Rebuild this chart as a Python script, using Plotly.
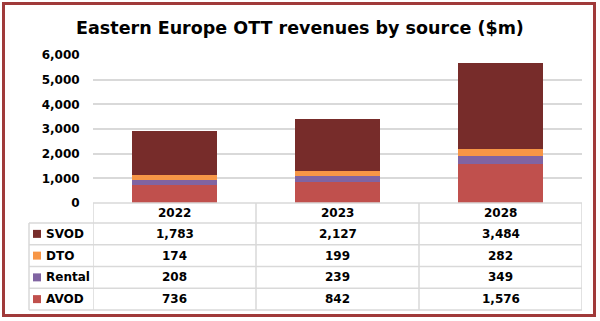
import plotly.graph_objects as go

# ---- data ----
years = ["2022", "2023", "2028"]
series_names = ["SVOD", "DTO", "Rental", "AVOD"]
svod = [1783, 2127, 3484]
dto = [174, 199, 282]
rental = [208, 239, 349]
avod = [736, 842, 1576]
y_ticks = [0, 1000, 2000, 3000, 4000, 5000, 6000]
title_text = "Eastern Europe OTT revenues by source ($m)"

values = {"SVOD": svod, "DTO": dto, "Rental": rental, "AVOD": avod}
colors = {"SVOD": "#772C2A", "DTO": "#F79646", "Rental": "#8064A2", "AVOD": "#C0504D"}

# ---- geometry (pixels) ----
W, H = 600, 321
ML, MR, MT, MB = 93, 18, 55, 118
PW, PH = W - ML - MR, H - MT - MB
plot_bottom = H - MB
header_h = 20
row_h = 21.75
legend_left = 29

def py(p):  # pixel y -> paper y
    return (plot_bottom - p) / PH

def px(p):  # pixel x -> paper x
    return (p - ML) / PW

FONT = "DejaVu Sans"
GRID = "#D9D9D9"

fig = go.Figure()
for name in ["AVOD", "Rental", "DTO", "SVOD"]:
    fig.add_trace(go.Bar(x=years, y=values[name], name=name,
                         marker=dict(color=colors[name], line=dict(width=0)),
                         showlegend=False))

shapes = []
annotations = []
n = len(years)
table_top = plot_bottom
header_bottom = table_top + header_h
table_bottom = header_bottom + row_h * len(series_names)

# horizontal lines
shapes.append(dict(type="line", xref="x", yref="paper", x0=-0.5, x1=n - 0.5,
                   y0=py(table_top), y1=py(table_top), line=dict(color=GRID, width=1.5)))
for i in range(len(series_names) + 1):
    yy = header_bottom + i * row_h
    shapes.append(dict(type="line", xref="paper", yref="paper", x0=px(legend_left), x1=1,
                       y0=py(yy), y1=py(yy), line=dict(color=GRID, width=1.5)))
# vertical lines
shapes.append(dict(type="line", xref="paper", yref="paper", x0=px(legend_left), x1=px(legend_left),
                   y0=py(header_bottom), y1=py(table_bottom), line=dict(color=GRID, width=1.5)))
for k in range(n + 1):
    shapes.append(dict(type="line", xref="x", yref="paper", x0=k - 0.5, x1=k - 0.5,
                       y0=py(table_top), y1=py(table_bottom), line=dict(color=GRID, width=1.5)))

# header text
for j, yr in enumerate(years):
    annotations.append(dict(x=j, xref="x", y=py(table_top + header_h / 2), yref="paper",
                            text=yr, showarrow=False, xanchor="center", yanchor="middle",
                            font=dict(family=FONT, size=12, color="black", weight="bold")))
# rows
for i, name in enumerate(series_names):
    yc = header_bottom + row_h * (i + 0.5)
    shapes.append(dict(type="rect", xref="paper", yref="paper",
                       x0=px(33), x1=px(41), y0=py(yc + 4), y1=py(yc - 4),
                       fillcolor=colors[name], line=dict(width=0)))
    annotations.append(dict(x=px(44), xref="paper", y=py(yc), yref="paper", text=name,
                            showarrow=False, xanchor="left", yanchor="middle",
                            font=dict(family=FONT, size=12, color="black", weight="bold")))
    for j, yr in enumerate(years):
        annotations.append(dict(x=j, xref="x", y=py(yc), yref="paper",
                                text=f"{values[name][j]:,}", showarrow=False,
                                xanchor="center", yanchor="middle",
                                font=dict(family=FONT, size=12, color="black", weight="bold")))

# outer frame
shapes.append(dict(type="rect", xref="paper", yref="paper",
                   x0=px(3.5), x1=px(594.5), y0=py(315.5), y1=py(3.5),
                   line=dict(color="#A03A3A", width=3), fillcolor="rgba(0,0,0,0)"))

fig.update_layout(
    width=W, height=H,
    margin=dict(l=ML, r=MR, t=MT, b=MB, pad=0),
    paper_bgcolor="white", plot_bgcolor="white",
    barmode="stack", bargap=0.484,
    title=dict(text=title_text, x=0.5, xref="container", xanchor="center",
               y=1 - 28 / H, yref="container", yanchor="middle",
               font=dict(family=FONT, size=17.5, color="black", weight="bold")),
    xaxis=dict(type="category", range=[-0.5, n - 0.5], showticklabels=False,
               showgrid=False, zeroline=False, showline=False, fixedrange=True),
    yaxis=dict(range=[0, 6000], tickvals=y_ticks, tickformat=",",
               showgrid=True, gridcolor=GRID, gridwidth=1.5, zeroline=False,
               showline=False, ticks="outside", ticklen=10, tickcolor="rgba(0,0,0,0)",
               tickfont=dict(family=FONT, size=12, color="black", weight="bold")),
    shapes=shapes, annotations=annotations,
)

fig.write_html("out.html")
